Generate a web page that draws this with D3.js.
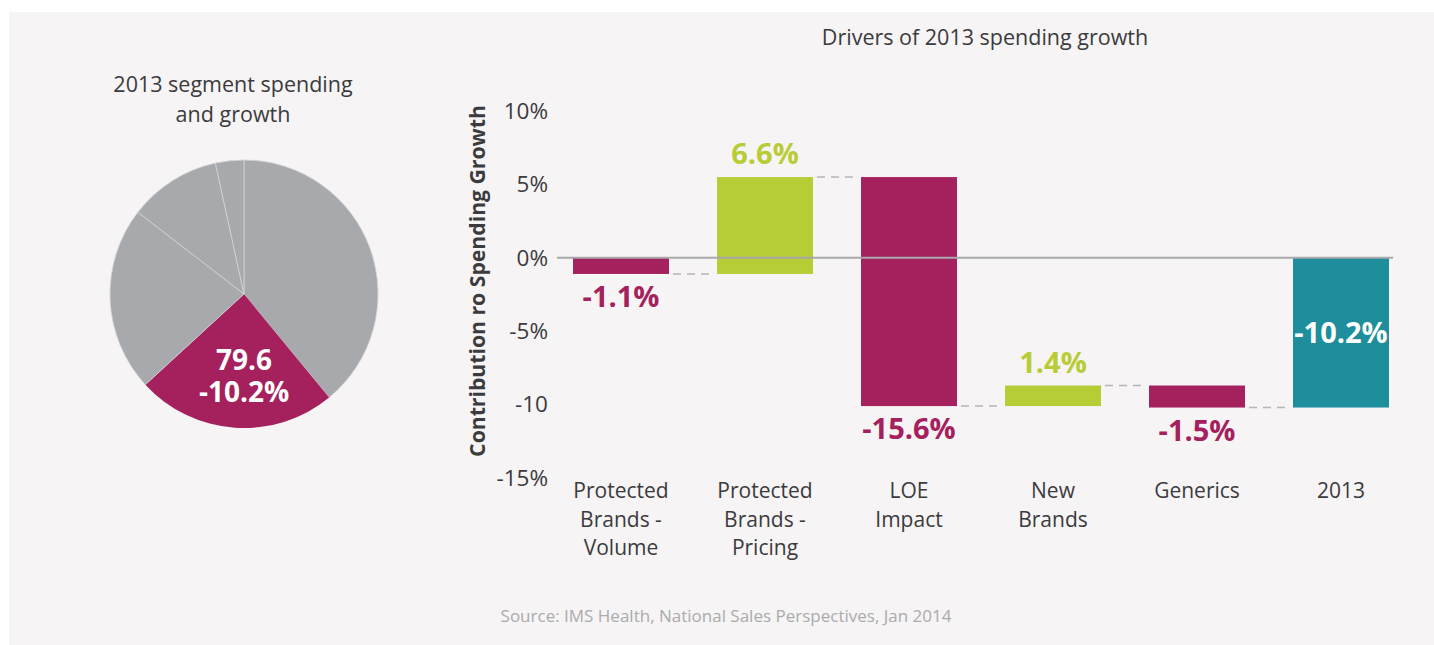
<!DOCTYPE html>
<html>
<head>
<meta charset="utf-8">
<script src="https://cdn.jsdelivr.net/npm/d3@7"></script>
<style>
  html, body { margin: 0; padding: 0; background: #ffffff; }
  svg { display: block; font-family: "Open Sans", "Noto Sans", sans-serif; }
</style>
</head>
<body>
<svg id="chart" width="1434" height="645"></svg>
<script>
// 2013 segment spending (US$ bn), pie drawn clockwise from 12 o'clock
const segmentNames = ["Other brands", "Protected brands", "Generics", "Other", "Misc"];
const segmentSpend = [128.8, 79.6, 73.5, 36.7, 11.3];
const highlightSegment = "Protected brands";
const highlightGrowth = -10.2;

// Drivers of 2013 spending growth (percentage points)
const drivers = ["Protected Brands - Volume", "Protected Brands - Pricing", "LOE Impact", "New Brands", "Generics", "2013"];
const driverLines = [["Protected", "Brands -", "Volume"], ["Protected", "Brands -", "Pricing"], ["LOE", "Impact"], ["New", "Brands"], ["Generics"], ["2013"]];
const driverValues = [-1.1, 6.6, -15.6, 1.4, -1.5, -10.2];
const driverIsTotal = [false, false, false, false, false, true];

const yTickValues = [10, 5, 0, -5, -10, -15];
const yTickLabels = ["10%", "5%", "0%", "-5%", "-10", "-15%"];

const C = {
  panel: "#f6f4f5",
  text: "#3b3b3d",
  grey: "#a7a9ac",
  magenta: "#a5215d",
  lime: "#b8cc35",
  teal: "#1e8d9c",
  axis: "#a9a9ab",
  dash: "#b5b5b8",
  source: "#ababad"
};

// plain hyphen for negatives, one decimal
const pct = v => (v < 0 ? "-" : "") + Math.abs(v).toFixed(1) + "%";

const svg = d3.select("#chart");
svg.append("rect").attr("x", 9).attr("y", 12).attr("width", 1425).attr("height", 633).attr("fill", C.panel);

// ---------- Pie ----------
svg.append("text").attr("x", 233).attr("y", 92).attr("text-anchor", "middle")
  .attr("font-size", 21.5).attr("fill", C.text).text("2013 segment spending");
svg.append("text").attr("x", 233).attr("y", 122).attr("text-anchor", "middle")
  .attr("font-size", 21.5).attr("fill", C.text).text("and growth");

const pieG = svg.append("g").attr("transform", "translate(244,294)");
const pie = d3.pie().sort(null).value(d => d.v);
const arc = d3.arc().innerRadius(0).outerRadius(134);
const pieData = pie(segmentNames.map((n, i) => ({ n, v: segmentSpend[i] })));

pieG.selectAll("path").data(pieData).join("path")
  .attr("d", arc)
  .attr("fill", d => d.data.n === highlightSegment ? C.magenta : C.grey)
  .attr("stroke", d => d.data.n === highlightSegment ? "none" : "#d3d3d5")
  .attr("stroke-width", 0.8);

const hl = pieData.find(d => d.data.n === highlightSegment);
const hlLabel = pieG.append("text").attr("text-anchor", "middle")
  .attr("font-size", 28).attr("font-weight", 700).attr("fill", "#fff");
hlLabel.append("tspan").attr("x", 0).attr("y", 76).text(hl.data.v.toFixed(1));
hlLabel.append("tspan").attr("x", 0).attr("y", 108).text(pct(highlightGrowth));

// ---------- Waterfall ----------
svg.append("text").attr("x", 985).attr("y", 45).attr("text-anchor", "middle")
  .attr("font-size", 21.5).attr("fill", C.text).text("Drivers of 2013 spending growth");

const x = d3.scaleBand().domain(drivers).range([549, 1413]).paddingInner(1 / 3).paddingOuter(1 / 6);
const y = d3.scaleLinear().domain([-15, 10]).range([478, 111]);

// running totals for the floating bars
let run = 0;
const bars = drivers.map((name, i) => {
  const v = driverValues[i];
  let start, end;
  if (driverIsTotal[i]) { start = 0; end = v; }
  else { start = run; end = run + v; run = end; }
  return { name, v, start, end, total: driverIsTotal[i] };
});

// y axis labels
const yAxis = d3.axisLeft(y).tickValues(yTickValues)
  .tickFormat((d, i) => yTickLabels[i]).tickSize(0).tickPadding(0);
const yAxisG = svg.append("g").attr("transform", "translate(548,0)").call(yAxis);
yAxisG.select(".domain").remove();
yAxisG.selectAll("text").attr("font-size", 22.5).attr("fill", C.text)
  .attr("font-family", "\"Open Sans\", \"Noto Sans\", sans-serif");

svg.append("text")
  .attr("transform", "translate(485,281) rotate(-90)")
  .attr("text-anchor", "middle").attr("font-size", 21.2).attr("font-weight", 700)
  .attr("fill", C.text).text("Contribution ro Spending Growth");

// connectors between consecutive bars
const connectors = bars.slice(0, -1).map((b, i) => ({ from: b, to: bars[i + 1], level: b.end }));
svg.append("g").selectAll("line").data(connectors).join("line")
  .attr("x1", d => x(d.from.name) + x.bandwidth() + 4)
  .attr("x2", d => x(d.to.name) - 4)
  .attr("y1", d => y(d.level)).attr("y2", d => y(d.level))
  .attr("stroke", C.dash).attr("stroke-width", 1.5).attr("stroke-dasharray", "8,6");

const barColor = b => b.total ? C.teal : (b.v < 0 ? C.magenta : C.lime);
svg.append("g").selectAll("rect").data(bars).join("rect")
  .attr("x", d => x(d.name))
  .attr("width", x.bandwidth())
  .attr("y", d => y(Math.max(d.start, d.end)))
  .attr("height", d => Math.abs(y(d.start) - y(d.end)))
  .attr("fill", barColor);

// zero line
svg.append("line").attr("x1", 557).attr("x2", 1393).attr("y1", y(0)).attr("y2", y(0))
  .attr("stroke", C.axis).attr("stroke-width", 2);

// value labels
svg.append("g").selectAll("text").data(bars).join("text")
  .attr("x", d => x(d.name) + x.bandwidth() / 2)
  .attr("y", d => {
    if (d.total) return (y(d.start) + y(d.end)) / 2;
    return d.v < 0 ? y(Math.min(d.start, d.end)) + 23 : y(Math.max(d.start, d.end)) - 23;
  })
  .attr("dy", "0.35em")
  .attr("text-anchor", "middle").attr("font-size", 29).attr("font-weight", 700)
  .attr("fill", d => d.total ? "#fff" : barColor(d))
  .text(d => pct(d.v));

// category labels
const catG = svg.append("g").selectAll("text").data(bars).join("text")
  .attr("x", d => x(d.name) + x.bandwidth() / 2)
  .attr("y", 498)
  .attr("text-anchor", "middle").attr("font-size", 21).attr("fill", C.text);
catG.selectAll("tspan").data((d, i) => driverLines[i]).join("tspan")
  .attr("x", function () { return d3.select(this.parentNode).attr("x"); })
  .attr("dy", (d, i) => i === 0 ? 0 : 28.5)
  .text(d => d);

// source
svg.append("text").attr("x", 726).attr("y", 622).attr("text-anchor", "middle")
  .attr("font-size", 17).attr("fill", C.source)
  .text("Source: IMS Health, National Sales Perspectives, Jan 2014");
</script>
</body>
</html>
